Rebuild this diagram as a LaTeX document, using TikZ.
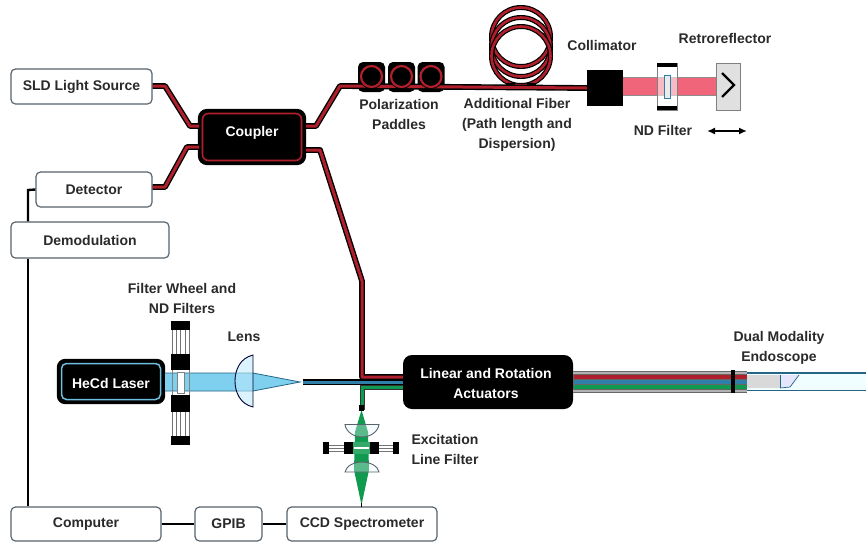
\documentclass[tikz,border=0pt]{standalone}
\usepackage{fontspec}
\setmainfont{Liberation Sans}
\usetikzlibrary{arrows.meta,calc}
\definecolor{fibred}{HTML}{B0202C}
\definecolor{fibgreen}{HTML}{0F9A50}
\definecolor{fibblue}{HTML}{2F7FA8}
\definecolor{beamblue}{HTML}{7FD0EE}
\definecolor{beampink}{HTML}{F0657A}
\definecolor{txt}{HTML}{2A2A2A}
\definecolor{edge}{HTML}{59636B}
\tikzset{
  lbl/.style={font=\fontsize{14}{15}\selectfont\bfseries,text=txt,inner sep=0pt,align=center},
  wlbl/.style={lbl,text=white},
  wbox/.style={draw=edge,line width=1.2pt,fill=white,rounded corners=4.5pt,inner sep=0pt,font=\fontsize{14}{15}\selectfont\bfseries,text=txt},
  fiber/.style={draw=black,line width=1.4pt,double=fibred,double distance=3pt,line join=round},
  fibg/.style={draw=black!80,line width=1pt,double=fibgreen,double distance=3pt},
  fibb/.style={draw=black,line width=1.2pt,double=fibblue,double distance=3pt},
  wire/.style={draw=black,line width=2.4pt},
  blk/.style={fill=black,draw=none},
  ring/.style={draw=black,line width=1.2pt,double=fibred,double distance=2.6pt},
}
\begin{document}
\begin{tikzpicture}[x=1pt,y=-1pt]
\useasboundingbox (0,0) rectangle (866,542);
\fill[white] (0,0) rectangle (866,542);

% main boxes
\node[wbox,minimum width=141pt,minimum height=35pt] (sld) at (81.5,86.5) {SLD Light Source};
\node[wbox,minimum width=116pt,minimum height=35pt] (det) at (94,189.5) {Detector};
\node[wbox,minimum width=158pt,minimum height=36pt] (dem) at (90,240) {Demodulation};
\node[wbox,minimum width=150pt,minimum height=34pt] (comp) at (86,524) {Computer};
\node[wbox,minimum width=67pt,minimum height=34pt] (gpib) at (228.5,524) {GPIB};
\node[wbox,minimum width=150pt,minimum height=34pt] (ccd) at (362,524) {CCD Spectrometer};

% computer wiring
\coordinate (detbend) at (28,190);
\draw[wire] (det.west) -- (detbend) -- (detbend |- dem.north);
\draw[wire] (detbend |- dem.south) -- (detbend |- comp.north);
\draw[wire] (comp.east) -- (gpib.west);
\draw[wire] (gpib.east) -- (ccd.west);

% coupler
\node[draw=black,line width=2.2pt,fill=black,rounded corners=8pt,minimum width=106pt,minimum height=54pt,inner sep=0pt] (coup) at (252,137) {};
\draw[fibred,line width=1.6pt,rounded corners=6pt] (202.5,113.5) rectangle (301.5,160.5);
\node[wlbl] (couplbl) at (252,133) {Coupler};

% fibres: left of coupler
\coordinate (a1) at (165,86);
\coordinate (a2) at (190,126);
\coordinate (a3) at (199,126);
\draw[fiber] (sld.east |- a1) -- (a1) -- (a2) -- (a3);
\coordinate (b1) at (165,187);
\coordinate (b2) at (187,147);
\coordinate (b3) at (199,147);
\draw[fiber] (det.east |- b1) -- (b1) -- (b2) -- (b3);

% paddles
\foreach \n/\x in {p1/371.5,p2/401.5,p3/431} {
  \node[blk,rounded corners=5pt,minimum width=27pt,minimum height=30pt,inner sep=0pt] (\n) at (\x,77) {};
}
% coil
\coordinate (coilc) at (521,47);
\foreach \dy in {-10,0,9} {
  \draw[ring] ($(coilc)+(0,\dy)$) circle[radius=29.5];
}
\fill[black] (506,83) rectangle (515,90);
\fill[black] (527,83) rectangle (536,90);

% collimator
\node[blk,minimum width=36pt,minimum height=36pt,inner sep=0pt] (coll) at (605,88) {};

% fibre from coupler to collimator
\coordinate (c1) at (316,126);
\coordinate (c2) at (340,86);
\draw[fiber] (coup.east |- c1) -- (c1) -- (c2) -- (coll.west);
\foreach \n in {p1,p2,p3} {
  \draw[ring,line width=.9pt,double distance=2.2pt] (\n) ++(0,-0.5) circle[radius=10.5];
}

% sample arm
\coordinate (d1) at (320,150);
\coordinate (d2) at (362,281);
\coordinate (d3) at (362,377);

% reference arm
\node[draw=black!50,line width=.8pt,fill=black!12,minimum width=24pt,minimum height=47pt,inner sep=0pt] (retro) at (728,86.5) {};
\fill[beampink] (coll.east |- 0,77) rectangle (retro.west |- 0,95);
\draw[black!45,line width=.5pt] (coll.east |- 0,77) -- (retro.west |- 0,77) (coll.east |- 0,95) -- (retro.west |- 0,95);
\draw[black,line width=2.2pt,miter limit=10] (722,73) -- (734,85) -- (722,97);
% ND filter
\node[draw=black!50,line width=.6pt,fill=white,fill opacity=.55,minimum width=20pt,minimum height=47pt,inner sep=0pt] (nd) at (667,86.5) {};
\fill[black] (657,63) rectangle (677,67);
\fill[black] (657,106) rectangle (677,110);
\draw[fibblue,line width=1pt,fill=black!8] (664,75) rectangle (670,98);
\coordinate (ar1) at (707,131);
\coordinate (ar2) at (747,131);
\draw[{Latex[length=8pt,width=7pt]}-{Latex[length=8pt,width=7pt]},line width=1.8pt,black] (ar1) -- (ar2);

% actuators
\node[blk,rounded corners=9pt,minimum width=170pt,minimum height=54pt,inner sep=0pt] (act) at (488,382) {};
\node[wlbl] (actlbl) at (486,383) {Linear and Rotation\\[5pt]Actuators};

% bundle to endoscope
\coordinate (bundle) at (747,381);
\fill[black!30] (act.east |- 0,371) rectangle (bundle |- 0,392);
\draw[black!60,line width=.7pt] (act.east |- 0,371) -- (bundle |- 0,371) (act.east |- 0,392) -- (bundle |- 0,392);
\draw[fill=fibred,draw=black!60,line width=.4pt] (act.east |- 0,374.5) rectangle (bundle |- 0,379.5);
\draw[fill=fibblue,draw=black!60,line width=.4pt] (act.east |- 0,379.5) rectangle (bundle |- 0,384.5);
\draw[fill=fibgreen,draw=black!60,line width=.4pt] (act.east |- 0,384.5) rectangle (bundle |- 0,389.5);
\fill[black] (731,370) rectangle (735,393);

% endoscope
\fill[blue!4!cyan!6] (bundle |- 0,373) rectangle (866,390);
\fill[black!15] (747,375) rectangle (780,388);
\fill[black!15!blue!10] (780,375) -- (799,375) -- (790,387) -- (780,388) -- cycle;
\draw[fibblue!80!black,line width=.7pt] (780,375) -- (780,388);
\draw[fibblue!80!black,line width=.7pt] (799,375) -- (790,387) -- (780,388);
\draw[fibblue!80!black,line width=1.2pt] (747,373) -- (866,373) (747,390.5) -- (866,390.5);

% laser
\node[draw=black,line width=2.2pt,fill=black,rounded corners=7pt,minimum width=106pt,minimum height=43pt,inner sep=0pt] (laser) at (111,381.5) {};
\draw[beamblue!80!fibblue,line width=1.5pt,rounded corners=5pt] (61.5,363.5) rectangle (160.5,399.5);
\node[wlbl] (laserlbl) at (111,383) {HeCd Laser};

% UV beam
\fill[beamblue] (laser.east |- 0,373) -- (253,373) -- (300,382) -- (253,391) -- (laser.east |- 0,391) -- cycle;
\draw[fibblue!80!black,line width=.8pt] (laser.east |- 0,373) -- (253,373) -- (300,382) -- (253,391) -- (laser.east |- 0,391);

% filter wheel
\foreach \ya/\yb in {330/354,412/436} {
  \fill[white] (171,\ya) rectangle (190,\yb);
  \foreach \xx in {172,176,180.5,185,189} \draw[black!55,line width=.8pt] (\xx,\ya) -- (\xx,\yb);
}
\foreach \ya/\yb in {321/330,354/370,395/412,436/445} \fill[black] (171,\ya) rectangle (190,\yb);
\foreach \xx in {172,189} \draw[black!50,line width=.7pt] (\xx,370) -- (\xx,395);
\draw[black!50,fill=white,line width=.5pt] (177,372) rectangle (184,393);

% lens
\draw[fill=cyan!25,fill opacity=.55,draw=black!80!blue,line width=.9pt] (253,355) .. controls (240,358) and (235,370) .. (235,381) .. controls (235,392) and (240,404) .. (253,407) -- cycle;

% fibres into actuators
\coordinate (gj) at (362,387);
\coordinate (bf) at (303,382);
\draw[fibg] (362,410) -- (gj) -- (act.west |- gj);
\draw[fiber] (coup.east |- d1) -- (d1) -- (d2) -- (d3) -- (act.west |- d3);
\draw[fibb] (bf) -- (act.west |- bf);

% green path
\fill[fibgreen] (361.5,410) -- (368,432) -- (369,470) -- (361.5,505) -- (354,470) -- (355,432) -- cycle;
\draw[black,line width=1pt] (361.5,503) -- (361.5,507);
\fill[black] (359,405) rectangle (364,411);

% excitation filter & lenses
\fill[white] (323,442) rectangle (399,454);
\foreach \yy in {445,448,451} {
  \draw[black!55,line width=.7pt] (323,\yy) -- (345,\yy);
  \draw[black!55,line width=.7pt] (378,\yy) -- (399,\yy);
}
\fill[black] (323,442) rectangle (329,454);
\fill[black] (393,442) rectangle (399,454);
\fill[black] (344,442) rectangle (353,454);
\fill[black] (370,442) rectangle (379,454);
\fill[fibgreen!85!white] (353,442) rectangle (370,454);
\fill[white] (354,447) rectangle (369,449);
\draw[edge,line width=.9pt,fill=cyan!10,fill opacity=.35] (345,424.5) -- (379,424.5) .. controls (378,432) and (370,437) .. (362,437) .. controls (354,437) and (346,432) .. (345,424.5) -- cycle;
\draw[edge,line width=.9pt,fill=cyan!10,fill opacity=.35] (345,472) -- (379,472) .. controls (378,466) and (370,462) .. (362,462) .. controls (354,462) and (346,466) .. (345,472) -- cycle;

% labels
\node[lbl] (l1) at (602,45) {Collimator};
\node[lbl] (l2) at (725,38) {Retroreflector};
\node[lbl] (l3) at (399,114.5) {Polarization\\[5pt]Paddles};
\node[lbl] (l4) at (517,125) {Additional Fiber\\[5pt](Path length and\\[5pt]Dispersion)};
\node[lbl] (l5) at (663,130) {ND Filter};
\node[lbl] (l6) at (182,298) {Filter Wheel and\\[5pt]ND Filters};
\node[lbl] (l7) at (244,337) {Lens};
\node[lbl] (l8) at (445,449.5) {Excitation\\[5pt]Line Filter};
\node[lbl] (l9) at (779,347.5) {Dual Modality\\[5pt]Endoscope};
\end{tikzpicture}
\end{document}
